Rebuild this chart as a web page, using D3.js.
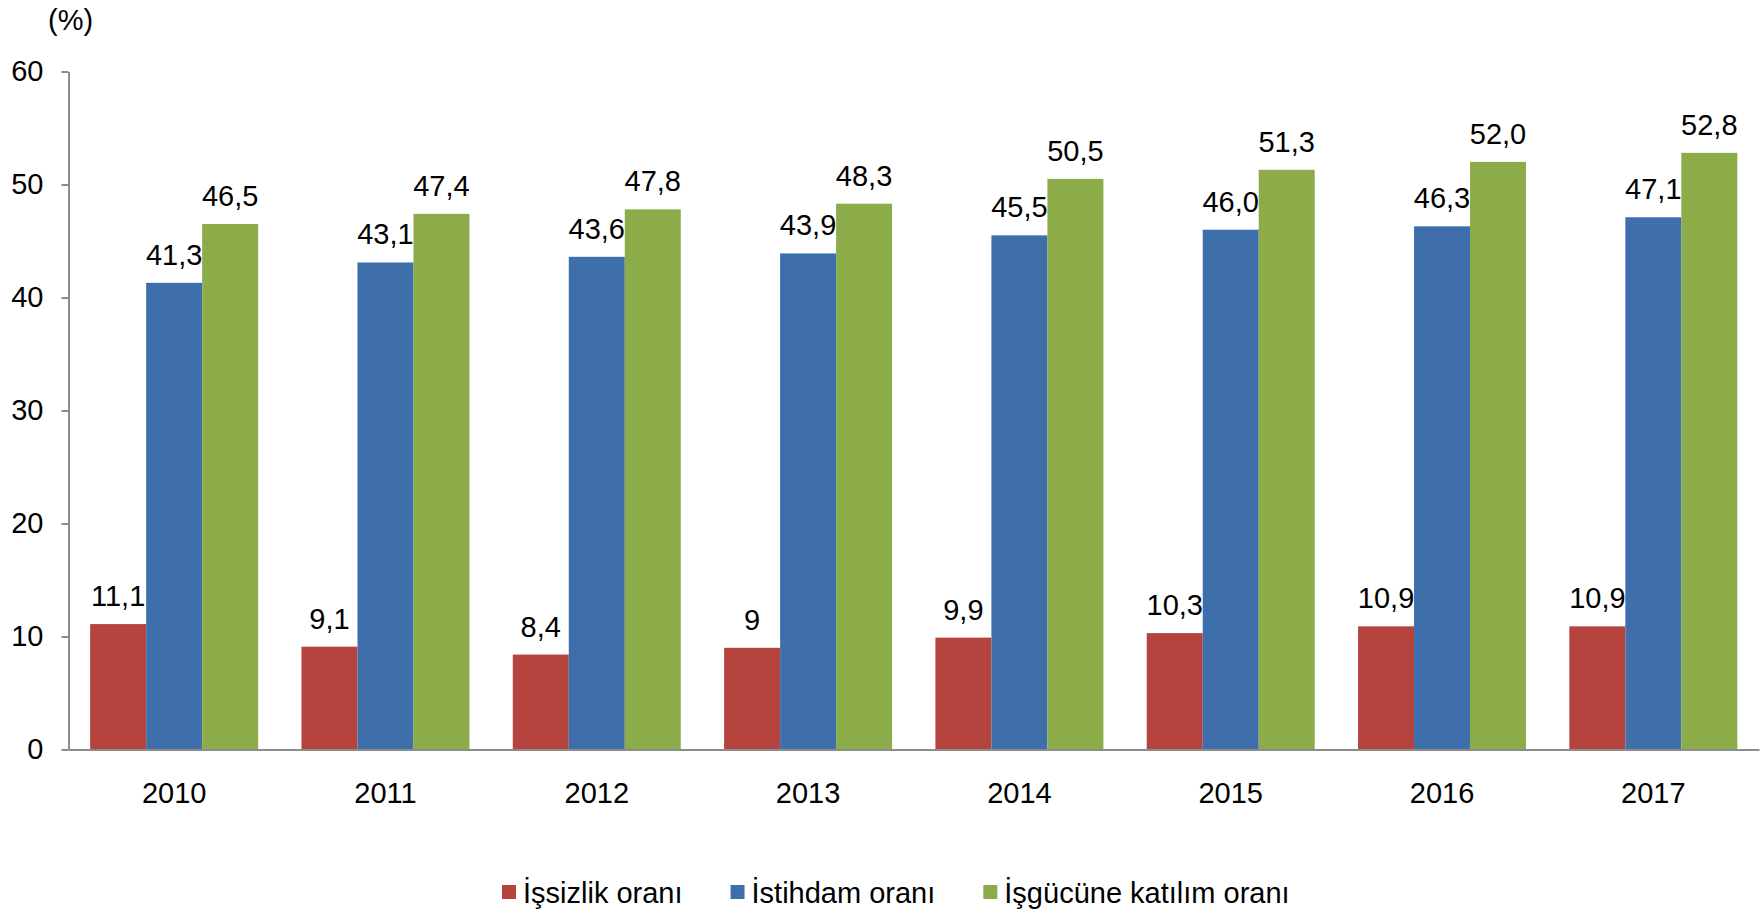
<!DOCTYPE html>
<html>
<head>
<meta charset="utf-8">
<script src="https://cdn.jsdelivr.net/npm/d3@7"></script>
<style>
  html, body { margin: 0; padding: 0; background: #ffffff; }
  svg { display: block; }
  text { font-family: "Liberation Sans", Arial, Helvetica, sans-serif; fill: #000; }
</style>
</head>
<body>
<svg id="chart" width="1761" height="913"></svg>
<script>
const years = ["2010", "2011", "2012", "2013", "2014", "2015", "2016", "2017"];
const seriesNames = ["İşsizlik oranı", "İstihdam oranı", "İşgücüne katılım oranı"];
const issizlik = [11.1, 9.1, 8.4, 9, 9.9, 10.3, 10.9, 10.9];
const istihdam = [41.3, 43.1, 43.6, 43.9, 45.5, 46.0, 46.3, 47.1];
const isgucu = [46.5, 47.4, 47.8, 48.3, 50.5, 51.3, 52.0, 52.8];
const yTicks = [0, 10, 20, 30, 40, 50, 60];
const colors = ["#B5443F", "#3E6FAA", "#8BAC49"];

const seriesValues = [issizlik, istihdam, isgucu];
const locale = d3.formatLocale({ decimal: ",", thousands: ".", grouping: [3], currency: ["", ""] });
const formats = [locale.format(".1~f"), locale.format(".1f"), locale.format(".1f")];

const svg = d3.select("#chart");
const fontSize = 29;
const plotLeft = 68.5, plotRight = 1759, plotTop = 71.5, plotBottom = 749.5;

const x = d3.scaleBand().domain(years).range([plotLeft, plotRight]).paddingInner(0.205).paddingOuter(0.1025);
const xs = d3.scaleBand().domain(d3.range(seriesNames.length)).range([0, x.bandwidth()]).padding(0);
const y = d3.scaleLinear().domain([0, 60]).range([plotBottom, plotTop]);

// bars
const groups = svg.append("g").selectAll("g")
  .data(years).join("g")
  .attr("transform", d => `translate(${x(d)},0)`);

seriesValues.forEach((vals, si) => {
  groups.append("rect")
    .attr("x", xs(si))
    .attr("width", xs.bandwidth())
    .attr("y", (d, i) => y(vals[i]))
    .attr("height", (d, i) => y(0) - y(vals[i]))
    .attr("fill", colors[si]);
});

// data labels
seriesValues.forEach((vals, si) => {
  groups.append("text")
    .attr("x", xs(si) + xs.bandwidth() / 2)
    .attr("y", (d, i) => y(vals[i]) - 18)
    .attr("text-anchor", "middle")
    .style("font-size", fontSize + "px")
    .text((d, i) => formats[si](vals[i]));
});

// y axis
const yAxis = d3.axisLeft(y).tickValues(yTicks).tickSize(7).tickSizeOuter(0).tickPadding(18).tickFormat(d3.format("d"));
const gy = svg.append("g").attr("transform", `translate(${plotLeft},0)`).call(yAxis);
gy.select(".domain").attr("stroke", "#8c8c8c").attr("stroke-width", 2);
gy.selectAll(".tick line").attr("stroke", "#8c8c8c").attr("stroke-width", 2);
gy.selectAll(".tick text").style("font-size", fontSize + "px").attr("fill", "#000")
  .style("font-family", '"Liberation Sans", Arial, sans-serif');

// x axis
const xAxis = d3.axisBottom(x).tickSize(0).tickSizeOuter(0).tickPadding(33);
const gx = svg.append("g").attr("transform", `translate(0,${plotBottom})`).call(xAxis);
gx.select(".domain").attr("stroke", "#8c8c8c").attr("stroke-width", 2);
gx.selectAll(".tick text").style("font-size", fontSize + "px").attr("fill", "#000")
  .style("font-family", '"Liberation Sans", Arial, sans-serif');

// unit label
svg.append("text")
  .attr("x", 48).attr("y", 30)
  .style("font-size", fontSize + "px")
  .text("(%)");

// legend
const legend = svg.append("g");
let lx = 502;
seriesNames.forEach((name, i) => {
  legend.append("rect")
    .attr("x", lx).attr("y", 885).attr("width", 14).attr("height", 14)
    .attr("fill", colors[i]);
  const t = legend.append("text")
    .attr("x", lx + 21).attr("y", 903)
    .style("font-size", fontSize + "px")
    .text(name);
  lx = lx + 21 + t.node().getComputedTextLength() + 48;
});
</script>
</body>
</html>
